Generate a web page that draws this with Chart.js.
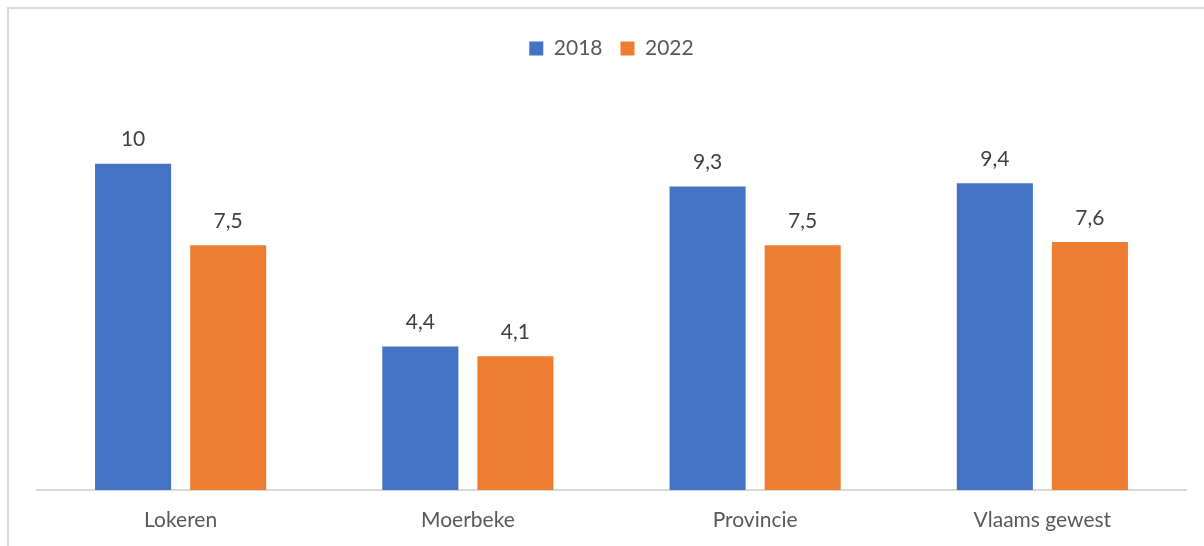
<!DOCTYPE html>
<html>
<head>
<meta charset="utf-8">
<script src="https://cdn.jsdelivr.net/npm/chart.js@4.4.1/dist/chart.umd.min.js"></script>
<style>
  html, body { margin: 0; padding: 0; background: #fff; overflow: hidden; }
  #wrap { position: relative; width: 1204px; height: 546px; }
  #frame { position: absolute; left: 7px; top: 7px; width: 1300px; height: 700px; border: 2px solid #d9d9d9; box-sizing: border-box; pointer-events: none; }
  canvas { position: absolute; left: 0; top: 0; }
</style>
</head>
<body>
<div id="wrap">
  <canvas id="c" width="1204" height="546"></canvas>
  <div id="frame"></div>
</div>
<script>
const categories = ['Lokeren', 'Moerbeke', 'Provincie', 'Vlaams gewest'];
const seriesNames = ['2018', '2022'];
const values2018 = [10, 4.4, 9.3, 9.4];
const values2022 = [7.5, 4.1, 7.5, 7.6];
const seriesColors = ['#4472C4', '#ED7D31'];

const FONT = 'Lato, "Liberation Sans", sans-serif';

const dataLabels = {
  id: 'dataLabels',
  afterDatasetsDraw(chart) {
    const ctx = chart.ctx;
    ctx.save();
    ctx.font = '21px ' + FONT;
    ctx.fillStyle = '#404040';
    ctx.textAlign = 'center';
    ctx.textBaseline = 'middle';
    chart.data.datasets.forEach((ds, i) => {
      const meta = chart.getDatasetMeta(i);
      meta.data.forEach((bar, j) => {
        const v = ds.data[j];
        ctx.fillText(String(v).replace('.', ','), bar.x, bar.y - 24);
      });
    });
    ctx.restore();
  }
};

new Chart(document.getElementById('c'), {
  type: 'bar',
  data: {
    labels: categories,
    datasets: [
      { label: seriesNames[0], data: values2018, backgroundColor: seriesColors[0] },
      { label: seriesNames[1], data: values2022, backgroundColor: seriesColors[1] }
    ]
  },
  options: {
    responsive: false,
    animation: false,
    categoryPercentage: 0.662,
    barPercentage: 0.8,
    layout: { padding: { left: 37, right: 18, top: 20, bottom: 12 } },
    plugins: {
      legend: {
        position: 'top',
        labels: {
          boxWidth: 14,
          boxHeight: 14,
          padding: 18,
          color: '#595959',
          font: { family: FONT, size: 21 }
        }
      },
      tooltip: { enabled: false }
    },
    scales: {
      y: { display: false, min: 0, max: 12.9 },
      x: {
        grid: { display: false, drawTicks: false },
        border: { display: true, color: '#d9d9d9', width: 2 },
        ticks: { color: '#595959', padding: 18, font: { family: FONT, size: 21 } },
        afterFit(scale) { scale.height = 44; }
      }
    }
  },
  plugins: [dataLabels]
});
</script>
</body>
</html>
